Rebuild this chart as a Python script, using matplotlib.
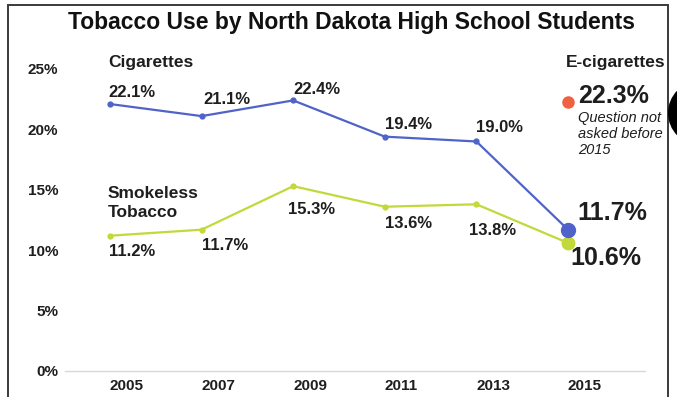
import matplotlib
matplotlib.use("Agg")
import matplotlib.pyplot as plt
from matplotlib.patches import Rectangle, Circle
from matplotlib.transforms import IdentityTransform

plt.rcParams['font.family'] = ['Liberation Sans', 'DejaVu Sans']

years = ["2005", "2007", "2009", "2011", "2013", "2015"]
cigarettes = [22.1, 21.1, 22.4, 19.4, 19.0, 11.7]
smokeless = [11.2, 11.7, 15.3, 13.6, 13.8, 10.6]
ecig_2015 = 22.3
yticks = [0, 5, 10, 15, 20, 25]

BLUE = "#4f63c9"
GREEN = "#c3d83a"
ORANGE = "#ef6240"
TEXT = "#1e1e1e"

W, H = 677, 397
fig = plt.figure(figsize=(W / 100, H / 100), dpi=100)
fig.patch.set_facecolor("white")

# axes placed so the 0% baseline sits near the bottom frame
ax_left, ax_right = 65, 645
ax_top, ax_bottom = 40, 371
ax = fig.add_axes([ax_left / W, (H - ax_bottom) / H,
                   (ax_right - ax_left) / W, (ax_bottom - ax_top) / H])
step = 91.6
x = list(range(len(years)))
ax.set_xlim(-(110 - ax_left) / step, (ax_right - 110) / step)
ax.set_ylim(0, (ax_bottom - ax_top) / 12.08)

for s in ["top", "right", "left"]:
    ax.spines[s].set_visible(False)
ax.spines["bottom"].set_color("#d8d8d8")
ax.spines["bottom"].set_linewidth(1.0)

ax.set_yticks(yticks)
ax.set_yticklabels([f"{v}%" for v in yticks], fontsize=11, fontweight="bold", color=TEXT)
ax.set_xticks(x)
ax.set_xticklabels(years, fontsize=11, fontweight="bold", color=TEXT, ha="left")
ax.tick_params(axis="both", length=0)
ax.tick_params(axis="y", pad=5)
ax.tick_params(axis="x", pad=6)

# series lines
ax.plot(x, cigarettes, color=BLUE, lw=1.6, marker="o", ms=3.5, zorder=3)
ax.plot(x, smokeless, color=GREEN, lw=1.6, marker="o", ms=3.5, zorder=3)
ax.plot([x[-1]], [smokeless[-1]], "o", color=GREEN, ms=9, zorder=4)
ax.plot([x[-1]], [cigarettes[-1]], "o", color=BLUE, ms=10, zorder=5)
ax.plot([x[-1]], [ecig_2015], "o", color=ORANGE, ms=8, zorder=5)

# value labels
cig_off = [(-1, 8), (1, 12), (0, 8), (0, 9), (0, 10)]
for i, v in enumerate(cigarettes[:-1]):
    dx, dy = cig_off[i]
    ax.annotate(f"{v:.1f}%", (x[i], v), xytext=(dx, dy), textcoords="offset points",
                ha="left", va="center", fontsize=12, fontweight="bold", color=TEXT)
smk_off = [(-1, -11.5), (0, -11.5), (-4, -16.5), (0, -12), (-5, -19)]
for i, v in enumerate(smokeless[:-1]):
    dx, dy = smk_off[i]
    ax.annotate(f"{v:.1f}%", (x[i], v), xytext=(dx, dy), textcoords="offset points",
                ha="left", va="center", fontsize=12, fontweight="bold", color=TEXT)

ax.annotate(f"{cigarettes[-1]:.1f}%", (x[-1], cigarettes[-1]), xytext=(7, 12),
            textcoords="offset points", ha="left", va="center",
            fontsize=18, fontweight="bold", color=TEXT)
ax.annotate(f"{smokeless[-1]:.1f}%", (x[-1], smokeless[-1]), xytext=(1.5, -11),
            textcoords="offset points", ha="left", va="center",
            fontsize=18, fontweight="bold", color=TEXT)
ax.annotate(f"{ecig_2015:.1f}%", (x[-1], ecig_2015), xytext=(7, 4),
            textcoords="offset points", ha="left", va="center",
            fontsize=18, fontweight="bold", color=TEXT)

# series names
fig.text(108 / W, 1 - 62 / H, "Cigarettes", fontsize=12.5, fontweight="bold",
         color=TEXT, ha="left", va="center")
fig.text(108 / W, 1 - 203 / H, "Smokeless\nTobacco", fontsize=12.5, fontweight="bold",
         color=TEXT, ha="left", va="center", linespacing=1.3)
fig.text(566 / W, 1 - 62 / H, "E-cigarettes", fontsize=12.5, fontweight="bold",
         color=TEXT, ha="left", va="center")
fig.text(578 / W, 1 - 134 / H, "Question not\nasked before\n2015", fontsize=10.5,
         style="italic", color=TEXT, ha="left", va="center", linespacing=1.22)

# title
fig.text(351 / W, 1 - 23 / H, "Tobacco Use by North Dakota High School Students",
         fontsize=16.5, fontweight="bold", color="#111111", ha="center", va="center")

# outer frame
fig.add_artist(Rectangle((8, -5), 660, H, transform=IdentityTransform(),
                         fill=False, edgecolor="#3a3a3a", lw=1.4))
fig.add_artist(Circle((700, H - 113), 32, transform=IdentityTransform(),
                      facecolor="black", edgecolor="none"))

fig.savefig("out.png", dpi=100, facecolor="white")
